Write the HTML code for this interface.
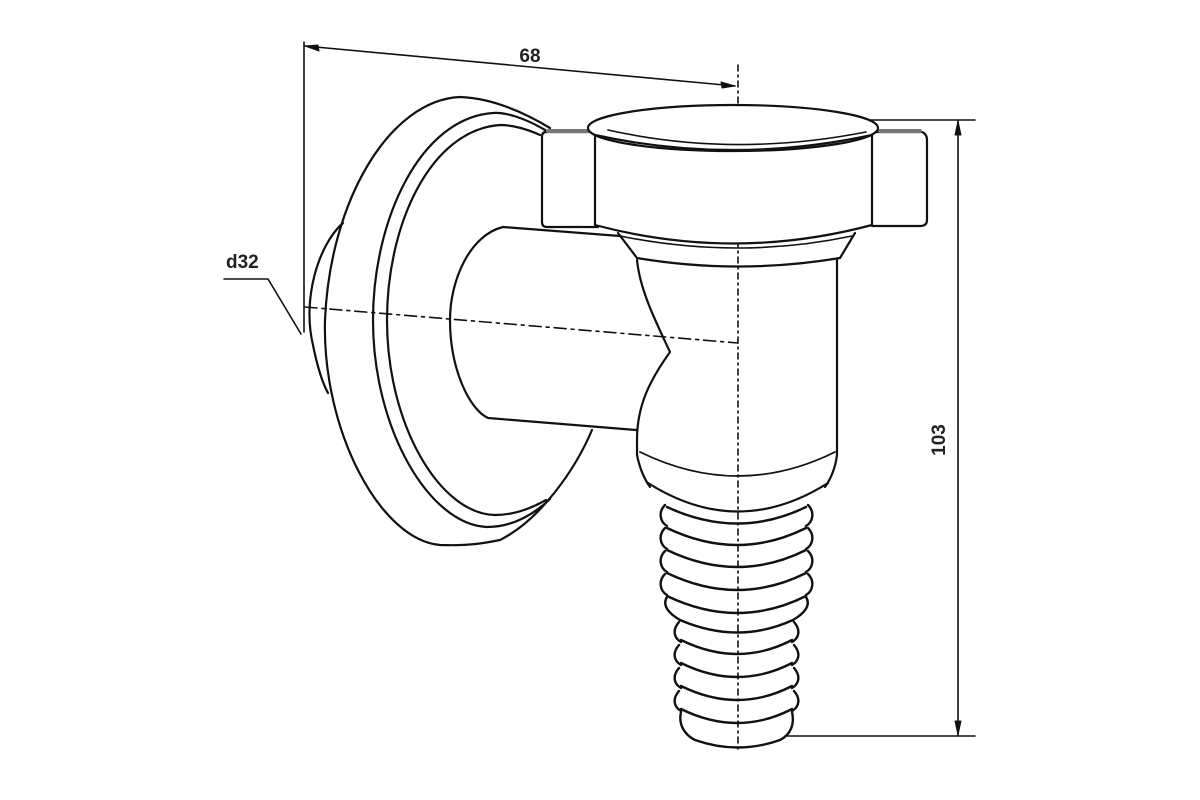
<!DOCTYPE html>
<html><head><meta charset="utf-8"><style>html,body{margin:0;padding:0;background:#fff}svg{display:block}</style></head>
<body>
<svg width="1200" height="800" viewBox="0 0 1200 800" xmlns="http://www.w3.org/2000/svg" fill="none" stroke="#111" stroke-width="2.2" stroke-linecap="round" stroke-linejoin="round">
<!-- dimension 68 -->
<line x1="304" y1="42" x2="304" y2="332" stroke-width="1.6"/>
<line x1="305" y1="46" x2="735" y2="86" stroke-width="1.6"/>
<path d="M305,46 l14,5 l-1,-6 z" fill="#111" stroke-width="1"/>
<path d="M735,86 l-14,-4 l1,6 z" fill="#111" stroke-width="1"/>
<text x="530" y="62" font-family="Liberation Sans, sans-serif" font-size="19" font-weight="bold" fill="#222" stroke="none" text-anchor="middle">68</text>
<!-- d32 -->
<text x="226" y="268" font-family="Liberation Sans, sans-serif" font-size="19" font-weight="bold" fill="#222" stroke="none">d32</text>
<polyline points="224,279 268,279 301,334" stroke-width="1.6"/>
<!-- dimension 103 -->
<line x1="740" y1="120" x2="975" y2="120" stroke-width="1.6"/>
<line x1="785" y1="736" x2="975" y2="736" stroke-width="1.6"/>
<line x1="958" y1="121" x2="958" y2="735" stroke-width="1.6"/>
<path d="M958,121 l-3,14 l6,0 z" fill="#111" stroke-width="1"/>
<path d="M958,735 l-3,-14 l6,0 z" fill="#111" stroke-width="1"/>
<text transform="translate(945,440) rotate(-90)" font-family="Liberation Sans, sans-serif" font-size="19" font-weight="bold" fill="#222" stroke="none" text-anchor="middle">103</text>
<!-- back boss -->
<path d="M343,223 C318,245 302,300 313,345 C317,365 322,382 328,393"/>
<!-- outer disc -->
<path d="M550,128 C520,110 490,98 460,97 C390,100 330,200 325,320 C322,430 380,540 440,545 C470,546 485,543 500,540 C540,520 575,470 592,430"/>
<!-- rings -->
<path d="M545,130 C525,118 505,112 493,113 C420,118 373,220 373,320 C373,430 430,525 487,527 C512,527 533,515 550,499"/>
<path d="M540,135 C525,128 510,125 500,125 C430,130 387,225 387,320 C387,425 440,514 495,515 C515,515 532,508 546,500"/>
<!-- horizontal pipe -->
<path d="M620,236 L503,227 C470,235 450,280 450,320 C450,370 470,410 488,418 L636,430"/>
<!-- centre lines -->
<line x1="305" y1="307" x2="738" y2="343" stroke-width="1.6" stroke-dasharray="12,5,3,5"/>
<line x1="738" y1="65" x2="738" y2="750" stroke-width="1.6" stroke-dasharray="6,4,2,4"/>
<!-- nut wings -->
<path d="M595,132 L546,132 Q542,132 542,137 L542,222 Q542,227 547,227 L598,227" fill="#fff"/>
<path d="M872,132 L922,132 Q927,134 927,140 L927,220 Q927,226 920,226 L872,226" fill="#fff"/>
<line x1="548" y1="131" x2="590" y2="131" stroke="#777" stroke-width="4"/>
<line x1="880" y1="131" x2="920" y2="131" stroke="#777" stroke-width="4"/>
<!-- nut band -->
<path d="M595,135 L595,225 Q733,262 872,225 L872,135" fill="#fff"/>
<ellipse cx="733" cy="128" rx="145" ry="23" fill="#fff"/>
<path d="M595,135 Q733,165 872,135"/>
<path d="M608,130 Q733,158 866,132" stroke-width="1.6"/>
<!-- collar -->
<path d="M618,233 L637,258 Q738,275 840,258 L855,233"/>
<path d="M620,236 Q738,260 852,236" stroke-width="1.6"/>
<!-- body -->
<path d="M637,260 C640,290 655,320 670,352 C650,380 637,405 637,440 L637,455"/>
<line x1="837" y1="260" x2="837" y2="455"/>
<path d="M637,455 C640,470 645,480 650,487"/>
<path d="M837,455 C835,470 830,480 825,487"/>
<path d="M640,452 Q738,500 835,452" stroke-width="1.8"/>
<path d="M648,483 Q738,540 828,483"/>
<!-- ribs -->
<g stroke-width="2.4">
<path d="M665,505 C658,512 660,522 667,526 M808,505 C815,512 813,522 806,526"/>
<path d="M667,507 Q738,540 806,507"/>
<path d="M667,528 Q738,562 806,528"/>
<path d="M665,528 C658,535 660,545 667,549 M808,528 C815,535 813,545 806,549"/>
<path d="M667,550 Q738,584 806,550"/>
<path d="M665,551 C658,558 660,568 667,572 M808,551 C815,558 813,568 806,572"/>
<path d="M667,573 Q738,607 806,573"/>
<path d="M665,574 C658,581 660,591 667,595 M808,574 C815,581 813,591 806,595"/>
<path d="M667,596 Q738,630 806,596"/>
<path d="M667,597 C662,605 668,613 680,620 M806,597 C811,605 805,613 793,620"/>
<path d="M680,620 Q738,645 793,620"/>
<path d="M679,622 C672,630 674,638 681,642 M794,622 C801,630 799,638 792,642"/>
<path d="M681,640 Q738,668 792,640"/>
<path d="M679,645 C672,653 674,661 681,665 M794,645 C801,653 799,661 792,665"/>
<path d="M681,663 Q738,691 792,663"/>
<path d="M679,668 C672,676 674,684 681,688 M794,668 C801,676 799,684 792,688"/>
<path d="M681,686 Q738,714 792,686"/>
<path d="M679,691 C672,699 674,707 681,711 M794,691 C801,699 799,707 792,711"/>
<path d="M681,709 Q738,737 792,709"/>
<path d="M681,712 C678,725 685,735 695,740 Q738,755 780,740 C790,735 795,725 792,712"/>
</g>
</svg>
</body></html>
